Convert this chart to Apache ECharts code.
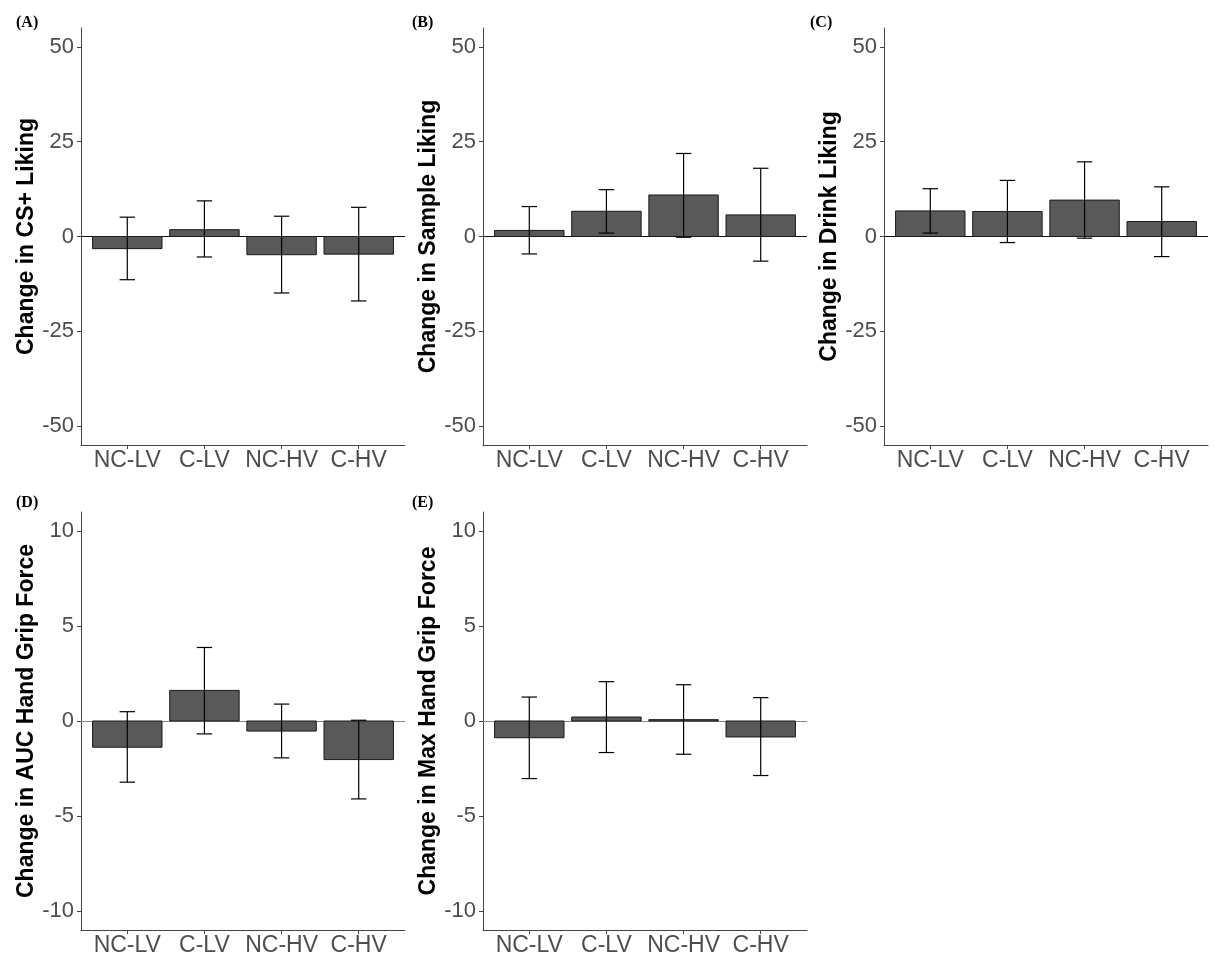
<!DOCTYPE html>
<html>
<head>
<meta charset="utf-8">
<script src="https://cdn.jsdelivr.net/npm/echarts@6/dist/echarts.min.js"></script>
<style>
html,body{margin:0;padding:0;background:#fff;}
#chart{width:1218px;height:959px;}
</style>
</head>
<body>
<div id="chart"></div>
<script>
const categories = ['NC-LV', 'C-LV', 'NC-HV', 'C-HV'];
const panelLabels = ['(A)', '(B)', '(C)', '(D)', '(E)'];
const yTitles = ['Change in CS+ Liking', 'Change in Sample Liking', 'Change in Drink Liking',
                 'Change in AUC Hand Grip Force', 'Change in Max Hand Grip Force'];

const csLikingMean  = [-3.2, 1.8, -4.8, -4.65];
const csLikingLow   = [-11.4, -5.4, -14.9, -17.0];
const csLikingHigh  = [5.1, 9.4, 5.35, 7.7];

const sampleMean = [1.6, 6.65, 10.95, 5.7];
const sampleLow  = [-4.6, 0.9, -0.2, -6.5];
const sampleHigh = [7.9, 12.35, 21.9, 18.0];

const drinkMean = [6.75, 6.6, 9.6, 3.95];
const drinkLow  = [0.9, -1.6, -0.45, -5.3];
const drinkHigh = [12.6, 14.8, 19.7, 13.1];

const aucMean = [-1.38, 1.61, -0.53, -2.03];
const aucLow  = [-3.22, -0.68, -1.94, -4.1];
const aucHigh = [0.49, 3.87, 0.89, 0.04];

const maxMean = [-0.88, 0.21, 0.07, -0.84];
const maxLow  = [-3.03, -1.66, -1.75, -2.87];
const maxHigh = [1.26, 2.07, 1.91, 1.23];

const likingTicks = [-50, -25, 0, 25, 50];
const gripTicks = [-10, -5, 0, 5, 10];

const panels = [
  {mean: csLikingMean, low: csLikingLow, high: csLikingHigh, ticks: likingTicks, lim: 55},
  {mean: sampleMean, low: sampleLow, high: sampleHigh, ticks: likingTicks, lim: 55},
  {mean: drinkMean, low: drinkLow, high: drinkHigh, ticks: likingTicks, lim: 55},
  {mean: aucMean, low: aucLow, high: aucHigh, ticks: gripTicks, lim: 11},
  {mean: maxMean, low: maxLow, high: maxHigh, ticks: gripTicks, lim: 11}
];

const gridPos = [
  {left: 81, top: 28, width: 324, height: 417},
  {left: 483, top: 28, width: 324, height: 417},
  {left: 884, top: 28, width: 324, height: 417},
  {left: 81, top: 512, width: 324, height: 418},
  {left: 483, top: 512, width: 324, height: 418}
];
const labelPos = [
  {left: 11, top: 10}, {left: 407, top: 10}, {left: 805, top: 10},
  {left: 11, top: 490}, {left: 407, top: 490}
];
const zeroColors = ['#111', '#111', '#111', '#888', '#888'];

const grid = [], xAxis = [], yAxis = [], series = [], title = [];
panels.forEach((p, i) => {
  grid.push(Object.assign({containLabel: false}, gridPos[i]));
  xAxis.push({
    type: 'value', gridIndex: i, min: 0.4, max: 4.6,
    splitLine: {show: false},
    axisLine: {show: true, onZero: false, lineStyle: {color: '#444', width: 1}},
    axisTick: {show: true, length: 4, customValues: [1, 2, 3, 4], lineStyle: {color: '#444'}},
    axisLabel: {customValues: [1, 2, 3, 4], formatter: v => categories[Math.round(v) - 1],
      fontFamily: 'Arial, Liberation Sans, sans-serif', fontSize: 23, color: '#4D4D4D', margin: 4}
  });
  yAxis.push({
    type: 'value', gridIndex: i, min: -p.lim, max: p.lim,
    splitLine: {show: false},
    axisLine: {show: true, onZero: false, lineStyle: {color: '#444', width: 1}},
    axisTick: {show: true, length: 4, customValues: p.ticks, lineStyle: {color: '#444'}},
    axisLabel: {customValues: p.ticks, fontFamily: 'Arial, Liberation Sans, sans-serif',
      fontSize: 22, color: '#4D4D4D', margin: 7},
    name: yTitles[i], nameLocation: 'middle', nameRotate: 90, nameGap: 43,
    nameTextStyle: {fontFamily: 'Arial, Liberation Sans, sans-serif', fontSize: 23,
      fontWeight: 'bold', color: '#000'}
  });
  const data = categories.map((c, k) => [k + 1, p.mean[k], p.low[k], p.high[k]]);
  series.push({
    type: 'custom', xAxisIndex: i, yAxisIndex: i, data: data, clip: false,
    renderItem: function (params, api) {
      const x = api.value(0), m = api.value(1), lo = api.value(2), hi = api.value(3);
      const p1 = api.coord([x - 0.45, Math.max(m, 0)]);
      const p2 = api.coord([x + 0.45, Math.min(m, 0)]);
      const top = api.coord([x, hi]), bot = api.coord([x, lo]);
      const cl = api.coord([x - 0.1, hi]), cr = api.coord([x + 0.1, hi]);
      const bl = api.coord([x - 0.1, lo]), br = api.coord([x + 0.1, lo]);
      return {type: 'group', children: [
        {type: 'rect', shape: {x: p1[0], y: p1[1], width: p2[0] - p1[0], height: p2[1] - p1[1]},
          style: {fill: '#595959', stroke: '#1a1a1a', lineWidth: 1}},
        {type: 'line', shape: {x1: top[0], y1: top[1], x2: bot[0], y2: bot[1]},
          style: {stroke: '#000', lineWidth: 1.2}},
        {type: 'line', shape: {x1: cl[0], y1: cl[1], x2: cr[0], y2: cr[1]},
          style: {stroke: '#000', lineWidth: 1.2}},
        {type: 'line', shape: {x1: bl[0], y1: bl[1], x2: br[0], y2: br[1]},
          style: {stroke: '#000', lineWidth: 1.2}}
      ]};
    },
    markLine: {silent: true, symbol: 'none', label: {show: false},
      lineStyle: {color: zeroColors[i], width: 1, type: 'solid'},
      data: [{yAxis: 0}], z: 1}
  });
  title.push({text: panelLabels[i], left: labelPos[i].left, top: labelPos[i].top,
    textStyle: {fontFamily: 'Liberation Serif, Times New Roman, serif', fontSize: 16,
      fontWeight: 'bold', color: '#000'}});
});

const chart = echarts.init(document.getElementById('chart'), null, {renderer: 'canvas'});
chart.setOption({animation: false, backgroundColor: '#fff', title, grid, xAxis, yAxis, series});
</script>
</body>
</html>
